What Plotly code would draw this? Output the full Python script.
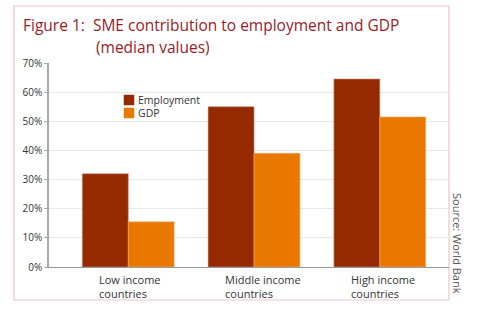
import plotly.graph_objects as go

categories = ["Low income countries", "Middle income countries", "High income countries"]
cat_labels = ["Low income<br>countries", "Middle income<br>countries", "High income<br>countries"]
employment = [32, 55, 64.5]
gdp = [15.5, 39, 51.5]
series_names = ["Employment", "GDP"]
series_colors = ["#952900", "#E87800"]
y_ticks = [0, 10, 20, 30, 40, 50, 60, 70]
y_tick_labels = [f"{v}%" for v in y_ticks]

W, H = 484, 327
L, R, T, B = 49, 35, 63, 60
pw, ph = W - L - R, H - T - B

def px(x):
    return (x - L) / pw

def py(y):
    return (H - B - y) / ph

fig = go.Figure()
fig.add_trace(go.Bar(name=series_names[0], x=categories, y=employment,
                     marker=dict(color=series_colors[0], line=dict(color="#c98a70", width=0.6))))
fig.add_trace(go.Bar(name=series_names[1], x=categories, y=gdp,
                     marker=dict(color=series_colors[1], line=dict(color="#f0b070", width=0.6))))

font = "Open Sans, sans-serif"
fig.update_layout(
    width=W, height=H,
    margin=dict(l=L, r=R, t=T, b=B),
    paper_bgcolor="white", plot_bgcolor="white",
    barmode="group", bargap=0.27, bargroupgap=0,
    font=dict(family=font, color="#333333"),
    showlegend=False,
    xaxis=dict(range=[-0.63, 2.55], showticklabels=False, showline=True,
               linecolor="#999999", linewidth=1, ticks="", showgrid=False, fixedrange=True),
    yaxis=dict(range=[0, 70], tickvals=y_ticks, ticktext=y_tick_labels,
               tickfont=dict(size=10, color="#333333"), showline=True, linecolor="#aaaaaa",
               linewidth=1.5, ticks="outside", ticklen=3, tickcolor="#aaaaaa",
               gridcolor="#e8e8e8", gridwidth=1, zeroline=False, fixedrange=True),
)

# frame
fig.add_shape(type="rect", xref="paper", yref="paper",
              x0=px(14), x1=px(449), y0=py(300), y1=py(6),
              line=dict(color="#ecc8c8", width=1.2), fillcolor="rgba(0,0,0,0)", layer="below")

# legend (drawn manually to match the compact original)
for i, (name, col) in enumerate(zip(series_names, series_colors)):
    ytop = 95 + i * 13
    fig.add_shape(type="rect", xref="paper", yref="paper",
                  x0=px(124), x1=px(134), y0=py(ytop + 10), y1=py(ytop),
                  fillcolor=col, line=dict(color=col, width=0.5))
    fig.add_annotation(xref="paper", yref="paper", x=px(136), y=py(ytop + 5),
                       xanchor="left", yanchor="middle", text=name, showarrow=False,
                       font=dict(size=10.5, color="#333333", family=font))

# title
tfont = dict(size=15.5, color="#9b1b1f", family=font)
fig.add_annotation(xref="paper", yref="paper", x=px(21), y=py(12), xanchor="left", yanchor="top",
                   text="Figure 1:  SME contribution to employment and GDP", showarrow=False,
                   font=tfont)
fig.add_annotation(xref="paper", yref="paper", x=px(94), y=py(34), xanchor="left", yanchor="top",
                   text="(median values)", showarrow=False, font=tfont)

# category labels
for c, lab in zip(categories, cat_labels):
    fig.add_annotation(xref="x", yref="paper", x=c, y=py(270), xanchor="left", yanchor="top",
                       xshift=-31, text=lab, showarrow=False, align="left",
                       font=dict(size=11, color="#333333", family=font))

# source
fig.add_annotation(xref="paper", yref="paper", x=px(458), y=py(243), xanchor="center", yanchor="middle",
                   text="Source: World Bank", textangle=90, showarrow=False,
                   font=dict(size=11, color="#555555", family=font))

fig.write_html("out.html")
